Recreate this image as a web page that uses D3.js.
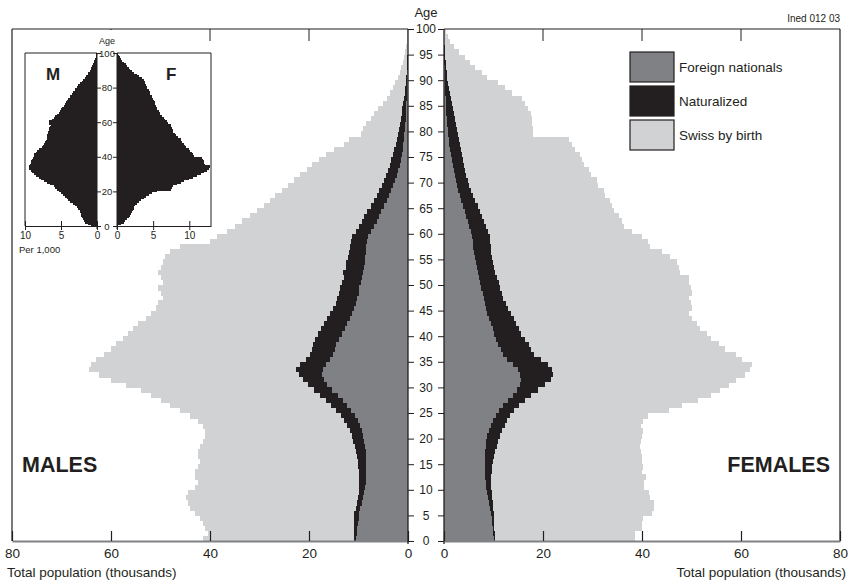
<!DOCTYPE html>
<html>
<head>
<meta charset="utf-8">
<script src="https://cdn.jsdelivr.net/npm/d3@7"></script>
<style>
    body { margin: 0; background: #fff; }
    svg { display: block; font-family: "Liberation Sans", Arial, sans-serif; }
</style>
</head>
<body>
<div id="chart"></div>
<script>
// ages 0..99, values in thousands
const maleForeign = [10.5,10.4,10.3,10.2,10.0,9.9,9.6,9.3,9.0,8.8,
    8.6,8.5,8.5,8.5,8.5,8.4,8.4,8.5,8.6,8.8,
    9.0,9.3,9.7,10.2,10.8,11.5,12.3,13.2,14.2,15.3,
    16.3,17.0,17.3,17.2,16.5,15.8,15.2,14.8,14.5,14.0,
    13.4,12.8,12.3,11.8,11.3,10.9,10.6,10.3,10.0,9.8,
    9.5,9.2,9.0,8.8,8.7,8.6,8.5,8.4,8.2,8.0,
    7.4,6.8,6.3,5.9,5.4,4.8,4.3,3.8,3.4,3.0,
    2.6,2.3,2.0,1.7,1.5,1.3,1.1,1.0,0.9,0.8,
    0.7,0.6,0.5,0.45,0.4,0.35,0.3,0.25,0.2,0.18,
    0.15,0.12,0.1,0.08,0.06,0.05,0.04,0.03,0.02,0.01];
const maleNaturalized = [0.5,0.5,0.6,0.7,0.9,1.0,1.0,1.0,1.1,1.2,
    1.2,1.3,1.4,1.5,1.6,1.8,2.0,2.1,2.2,2.3,
    2.4,2.5,2.6,2.7,2.8,3.0,3.2,3.4,3.6,3.7,
    3.9,4.2,4.7,5.5,5.3,4.8,4.6,4.6,4.7,4.8,
    4.8,4.8,4.7,4.6,4.5,4.3,4.0,4.0,4.0,4.0,
    3.9,3.8,4.2,3.8,3.8,3.6,3.5,3.4,3.4,3.3,
    3.2,3.1,3.0,2.9,2.8,2.7,2.6,2.5,2.4,2.3,
    2.2,2.1,2.0,2.0,1.9,1.8,1.7,1.5,1.4,1.3,
    1.2,1.1,1.0,0.85,0.75,0.65,0.55,0.45,0.4,0.32,
    0.25,0.18,0.15,0.12,0.09,0.05,0.04,0.03,0.02,0.01];
const maleSwiss = [30.5,29.6,30.1,30.6,31.1,32.1,33.4,34.2,34.7,34.5,
    33.2,32.7,33.1,33.0,32.4,31.8,32.1,31.9,31.2,30.4,
    29.6,29.2,29.2,29.6,30.4,31.5,32.5,33.4,34.2,35.0,
    36.8,38.8,40.5,41.8,42.2,42.4,41.7,40.6,39.8,38.7,
    38.3,37.9,37.5,36.6,36.2,35.8,35.9,35.2,36.0,36.7,
    36.1,37.0,37.3,37.4,37.0,36.8,36.0,34.2,28.4,27.2,
    25.9,25.1,24.2,23.2,22.3,21.5,20.9,20.5,19.7,18.9,
    18.2,17.4,16.5,15.6,14.6,13.4,12.2,10.5,9.7,7.4,
    7.1,6.8,6.0,5.5,4.85,4.0,3.45,3.0,2.5,2.1,
    1.7,1.4,1.1,0.85,0.65,0.5,0.34,0.24,0.16,0.1];

const femaleForeign = [10.0,9.9,9.8,9.7,9.6,9.4,9.2,9.0,8.8,8.7,
    8.5,8.4,8.3,8.3,8.3,8.3,8.3,8.3,8.4,8.5,
    8.7,9.0,9.4,9.9,10.5,11.2,12.0,13.0,14.0,14.8,
    15.3,15.5,15.4,15.0,14.0,12.8,12.0,11.5,11.0,10.5,
    10.1,9.8,9.4,9.0,8.7,8.4,8.2,8.0,7.8,7.5,
    7.3,7.0,6.8,6.6,6.4,6.2,6.0,5.9,5.8,5.7,
    5.4,5.1,4.8,4.5,4.2,3.8,3.5,3.2,2.9,2.6,
    2.4,2.2,2.0,1.8,1.6,1.4,1.3,1.1,1.0,0.9,
    0.8,0.7,0.6,0.5,0.45,0.4,0.35,0.3,0.25,0.2,
    0.18,0.15,0.12,0.1,0.08,0.06,0.05,0.04,0.03,0.02];
const femaleNaturalized = [0.3,0.4,0.4,0.4,0.5,0.6,0.7,0.8,0.9,0.9,
    1.0,1.1,1.2,1.3,1.4,1.6,1.8,2.1,2.3,2.5,
    2.7,2.8,2.9,2.9,2.9,3.0,3.2,3.3,3.6,4.2,
    5.2,6.1,6.6,6.8,7.0,6.7,6.2,6.1,6.2,5.8,
    5.5,5.4,5.2,5.1,4.9,4.6,4.3,4.0,3.9,3.9,
    3.9,3.8,3.6,3.4,3.4,3.4,3.5,3.5,3.5,3.5,
    3.4,3.3,3.2,3.1,3.0,3.0,2.8,2.7,2.6,2.5,
    2.4,2.3,2.2,2.2,2.2,2.2,2.1,2.1,2.0,1.9,
    1.8,1.7,1.6,1.5,1.35,1.2,1.05,0.9,0.75,0.65,
    0.52,0.4,0.33,0.25,0.2,0.14,0.1,0.06,0.04,0.02];
const femaleSwiss = [28.2,28.2,29.8,29.9,30.1,32.0,32.5,32.6,32.0,31.9,
    31.0,31.0,31.3,30.4,30.6,30.1,29.9,29.4,28.8,28.8,
    28.6,28.4,27.5,27.5,27.9,31.2,32.8,35.1,36.4,36.8,
    37.0,37.3,38.9,40.1,41.2,40.7,40.7,39.2,38.3,37.7,
    37.5,36.6,36.5,36.0,35.8,37.1,37.3,37.4,38.4,38.4,
    38.2,38.6,37.3,37.4,37.2,36.1,34.5,32.3,32.0,30.8,
    29.2,27.9,28.0,27.7,27.1,27.1,27.3,26.7,26.8,26.1,
    26.1,25.1,25.0,24.2,24.1,23.9,23.1,22.7,22.2,15.2,
    15.3,15.4,15.6,15.5,15.2,14.8,14.4,12.5,11.4,10.15,
    8.0,7.15,5.85,4.95,4.02,2.8,1.85,1.2,0.73,0.36];

// inset: naturalized, per 1,000
const insetMale = [0.9,1.3,1.6,1.8,2.0,2.1,2.2,2.2,2.3,2.4,
    2.6,2.8,3.0,3.3,3.7,4.0,4.2,4.5,4.7,5.0,
    5.3,5.5,5.8,6.0,6.5,7.0,7.4,7.8,8.1,8.5,
    8.8,9.0,9.2,9.4,9.5,9.3,9.2,9.1,9.0,8.9,
    8.8,8.7,8.5,8.4,8.0,7.7,7.5,7.3,7.2,7.1,
    7.0,6.9,6.9,6.8,6.8,6.7,6.7,6.5,6.4,6.7,
    6.7,6.3,6.0,5.8,5.6,5.3,5.2,5.0,4.9,4.6,
    4.4,4.3,4.1,4.0,3.8,3.7,3.5,3.3,3.1,3.0,
    2.8,2.6,2.3,2.1,1.9,1.6,1.5,1.3,1.2,1.0,
    0.9,0.8,0.7,0.55,0.45,0.35,0.25,0.2,0.1,0.08];
const insetFemale = [0.2,0.6,0.9,1.1,1.4,1.6,1.8,2.0,2.1,2.2,
    2.3,2.4,2.5,2.7,3.0,3.3,3.7,4.0,4.4,4.8,
    5.5,7.4,7.6,7.8,8.3,8.8,9.3,9.9,10.5,11.1,
    11.6,12.0,12.4,12.7,12.9,12.2,12.1,12.0,11.9,11.8,
    10.6,10.5,10.4,10.1,9.9,9.6,9.4,9.2,9.0,8.9,
    8.8,8.4,8.1,8.0,7.8,7.7,7.6,7.5,7.4,7.1,
    6.9,6.7,6.5,6.2,6.0,5.9,5.8,5.6,5.5,5.4,
    5.3,5.2,5.1,5.0,4.9,4.8,4.6,4.5,4.4,4.2,
    4.1,4.0,3.9,3.9,3.7,3.5,3.1,2.8,2.4,2.1,
    1.8,1.6,1.4,1.2,0.9,0.7,0.5,0.4,0.25,0.1];

const groups = ["Foreign nationals", "Naturalized", "Swiss by birth"];
const xTicks = [0, 20, 40, 60, 80];
const ageTicks = d3.range(0, 101, 5);
const insetAgeTicks = d3.range(0, 101, 20);

const colors = ["#808184", "#231f20", "#d1d2d4"];
const ages = d3.range(0, 100);

const width = 853;
const height = 582;

const svg = d3.select("#chart").append("svg")
    .attr("width", width)
    .attr("height", height);

const yTop = 29, yBottom = 541;
const x0L = 408, x0R = 444;

const xLeft = d3.scaleLinear().domain([0, 80]).range([x0L, 12]);
const xRight = d3.scaleLinear().domain([0, 80]).range([x0R, 840]);
const yAge = d3.scaleLinear().domain([0, 100]).range([yBottom, yTop]);
const yBand = d3.scaleBand().domain(ages).range([yBottom, yTop]);

const stack = d3.stack().keys([0, 1, 2]);
const maleRows = ages.map(a => [maleForeign[a], maleNaturalized[a], maleSwiss[a]]);
const femaleRows = ages.map(a => [femaleForeign[a], femaleNaturalized[a], femaleSwiss[a]]);

function drawSide(rows, x, left) {
    const series = stack(rows);
    svg.append("g")
        .selectAll("g")
        .data(series)
        .join("g")
        .attr("fill", (d, i) => colors[i])
        .selectAll("rect")
        .data(d => d)
        .join("rect")
        .attr("x", d => left ? x(d[1]) : x(d[0]))
        .attr("width", d => Math.abs(x(d[1]) - x(d[0])))
        .attr("y", (d, i) => yBand(i))
        .attr("height", yBand.bandwidth() + 0.4)
        .attr("shape-rendering", "crispEdges");
}

drawSide(maleRows, xLeft, true);
drawSide(femaleRows, xRight, false);

// frame
const frame = svg.append("g").attr("stroke", "#231f20").attr("stroke-width", 1.2);
frame.append("line").attr("x1", 12).attr("x2", x0L).attr("y1", yTop).attr("y2", yTop);
frame.append("line").attr("x1", x0R).attr("x2", 840).attr("y1", yTop).attr("y2", yTop);
frame.append("line").attr("x1", 12).attr("x2", 12).attr("y1", yTop).attr("y2", yBottom);
frame.append("line").attr("x1", 840).attr("x2", 840).attr("y1", yTop).attr("y2", yBottom);

// top ticks
[xLeft, xRight].forEach(x => {
    svg.append("g")
        .attr("stroke", "#231f20")
        .selectAll("line")
        .data([20, 40, 60])
        .join("line")
        .attr("x1", d => x(d)).attr("x2", d => x(d))
        .attr("y1", yTop).attr("y2", yTop + 12);
});

// bottom axes
[xLeft, xRight].forEach(x => {
    const g = svg.append("g")
        .attr("transform", `translate(0,${yBottom})`)
        .call(d3.axisBottom(x).tickValues(xTicks).tickSizeInner(-10).tickSizeOuter(0).tickPadding(7));
    g.select(".domain").attr("stroke", "#808184").attr("stroke-width", 2.2);
    g.selectAll(".tick line").attr("stroke", "#231f20").attr("stroke-width", 1.2);
    g.selectAll(".tick text")
        .attr("font-size", 13.5)
        .attr("font-family", "Liberation Sans, Arial, sans-serif")
        .attr("fill", "#231f20");
});

// centre lines
svg.append("g")
    .attr("stroke", "#231f20")
    .attr("stroke-width", 1.3)
    .selectAll("line")
    .data([x0L, x0R])
    .join("line")
    .attr("x1", d => d).attr("x2", d => d)
    .attr("y1", yTop).attr("y2", yBottom + 3);

// age axis
const ageL = svg.append("g")
    .attr("transform", `translate(${x0L},0)`)
    .call(d3.axisRight(yAge).tickValues(ageTicks).tickSize(6).tickSizeOuter(0));
ageL.select(".domain").remove();
ageL.selectAll(".tick line").attr("stroke", "#231f20");
ageL.selectAll(".tick text")
    .attr("x", (x0R - x0L) / 2)
    .attr("text-anchor", "middle")
    .attr("font-size", 12)
    .attr("font-family", "Liberation Sans, Arial, sans-serif")
    .attr("fill", "#231f20");
const ageR = svg.append("g")
    .attr("transform", `translate(${x0R},0)`)
    .call(d3.axisLeft(yAge).tickValues(ageTicks).tickSize(6).tickSizeOuter(0).tickFormat(""));
ageR.select(".domain").remove();
ageR.selectAll(".tick line").attr("stroke", "#231f20");

svg.append("text")
    .attr("x", (x0L + x0R) / 2).attr("y", 17)
    .attr("text-anchor", "middle")
    .attr("font-size", 13)
    .attr("fill", "#231f20")
    .text("Age");

svg.append("text")
    .attr("x", 840).attr("y", 22)
    .attr("text-anchor", "end")
    .attr("font-size", 10)
    .attr("fill", "#231f20")
    .text("Ined 012 03");

svg.append("text")
    .attr("x", 7).attr("y", 577)
    .attr("font-size", 13.5)
    .attr("fill", "#231f20")
    .text("Total population (thousands)");
svg.append("text")
    .attr("x", 846).attr("y", 577)
    .attr("text-anchor", "end")
    .attr("font-size", 13.5)
    .attr("fill", "#231f20")
    .text("Total population (thousands)");

svg.append("text")
    .attr("x", 22).attr("y", 472)
    .attr("font-size", 21.5)
    .attr("font-weight", "bold")
    .attr("fill", "#231f20")
    .text("MALES");
svg.append("text")
    .attr("x", 830).attr("y", 472)
    .attr("text-anchor", "end")
    .attr("font-size", 21.5)
    .attr("font-weight", "bold")
    .attr("fill", "#231f20")
    .text("FEMALES");

// legend
const legend = svg.append("g")
    .selectAll("g")
    .data(groups)
    .join("g")
    .attr("transform", (d, i) => `translate(630,${52 + i * 34})`);
legend.append("rect")
    .attr("width", 44).attr("height", 30)
    .attr("fill", (d, i) => colors[i])
    .attr("stroke", "#231f20")
    .attr("stroke-width", 1.2);
legend.append("text")
    .attr("x", 49).attr("y", 20)
    .attr("font-size", 13.5)
    .attr("fill", "#231f20")
    .text(d => d);

// inset
const inset = svg.append("g");
inset.append("rect")
    .attr("x", 13).attr("y", yTop + 1)
    .attr("width", 150).attr("height", 228)
    .attr("fill", "#fff");

const iTop = 53, iBottom = 226;
const iL = 97, iR = 117;
const xM = d3.scaleLinear().domain([0, 10]).range([iL, 25]);
const xF = d3.scaleLinear().domain([0, 13]).range([iR, 211]);
const yInset = d3.scaleLinear().domain([0, 100]).range([iBottom, iTop]);
const yInsetBand = d3.scaleBand().domain(ages).range([iBottom, iTop]);

inset.append("g")
    .attr("fill", "#231f20")
    .attr("shape-rendering", "crispEdges")
    .selectAll("rect")
    .data(insetMale)
    .join("rect")
    .attr("x", d => xM(d))
    .attr("width", d => xM(0) - xM(d))
    .attr("y", (d, i) => yInsetBand(i))
    .attr("height", yInsetBand.bandwidth() + 1);
inset.append("g")
    .attr("fill", "#231f20")
    .attr("shape-rendering", "crispEdges")
    .selectAll("rect")
    .data(insetFemale)
    .join("rect")
    .attr("x", iR)
    .attr("width", d => xF(d) - xF(0))
    .attr("y", (d, i) => yInsetBand(i))
    .attr("height", yInsetBand.bandwidth() + 1);

const iframe = inset.append("g").attr("stroke", "#231f20").attr("stroke-width", 1);
iframe.append("path").attr("fill", "none")
    .attr("d", `M${iL},${iTop}H25V${iBottom}`);
iframe.append("path").attr("fill", "none")
    .attr("d", `M${iR},${iTop}H211V${iBottom}`);
iframe.selectAll(".c")
    .data([iL, iR])
    .join("line")
    .attr("x1", d => d).attr("x2", d => d)
    .attr("y1", iTop).attr("y2", iBottom + 3);

[[xM, [0, 5, 10]], [xF, [0, 5, 10]]].forEach(([x, vals]) => {
    const g = inset.append("g")
        .attr("transform", `translate(0,${iBottom})`)
        .call(d3.axisBottom(x).tickValues(vals).tickSizeInner(-6).tickSizeOuter(0).tickPadding(6));
    g.select(".domain").attr("stroke", "#231f20");
    g.selectAll(".tick line").attr("stroke", "#231f20").attr("y2", 4).attr("y1", -5);
    g.selectAll(".tick text")
        .attr("font-size", 10)
        .attr("font-family", "Liberation Sans, Arial, sans-serif")
        .attr("fill", "#231f20");
});

const iAgeL = inset.append("g")
    .attr("transform", `translate(${iL},0)`)
    .call(d3.axisRight(yInset).tickValues(insetAgeTicks).tickSize(4).tickSizeOuter(0));
iAgeL.select(".domain").remove();
iAgeL.selectAll(".tick line").attr("stroke", "#231f20");
iAgeL.selectAll(".tick text")
    .attr("x", (iR - iL) / 2)
    .attr("text-anchor", "middle")
    .attr("font-size", 9.5)
    .attr("font-family", "Liberation Sans, Arial, sans-serif")
    .attr("fill", "#231f20");
const iAgeR = inset.append("g")
    .attr("transform", `translate(${iR},0)`)
    .call(d3.axisLeft(yInset).tickValues(insetAgeTicks).tickSize(4).tickSizeOuter(0).tickFormat(""));
iAgeR.select(".domain").remove();
iAgeR.selectAll(".tick line").attr("stroke", "#231f20");

inset.append("text")
    .attr("x", (iL + iR) / 2).attr("y", 44)
    .attr("text-anchor", "middle")
    .attr("font-size", 9)
    .attr("fill", "#231f20")
    .text("Age");
inset.append("text")
    .attr("x", 46).attr("y", 80)
    .attr("font-size", 17)
    .attr("font-weight", "bold")
    .attr("fill", "#231f20")
    .text("M");
inset.append("text")
    .attr("x", 166).attr("y", 80)
    .attr("font-size", 17)
    .attr("font-weight", "bold")
    .attr("fill", "#231f20")
    .text("F");
inset.append("text")
    .attr("x", 19).attr("y", 253)
    .attr("font-size", 9.5)
    .attr("fill", "#231f20")
    .text("Per 1,000");
</script>
</body>
</html>
